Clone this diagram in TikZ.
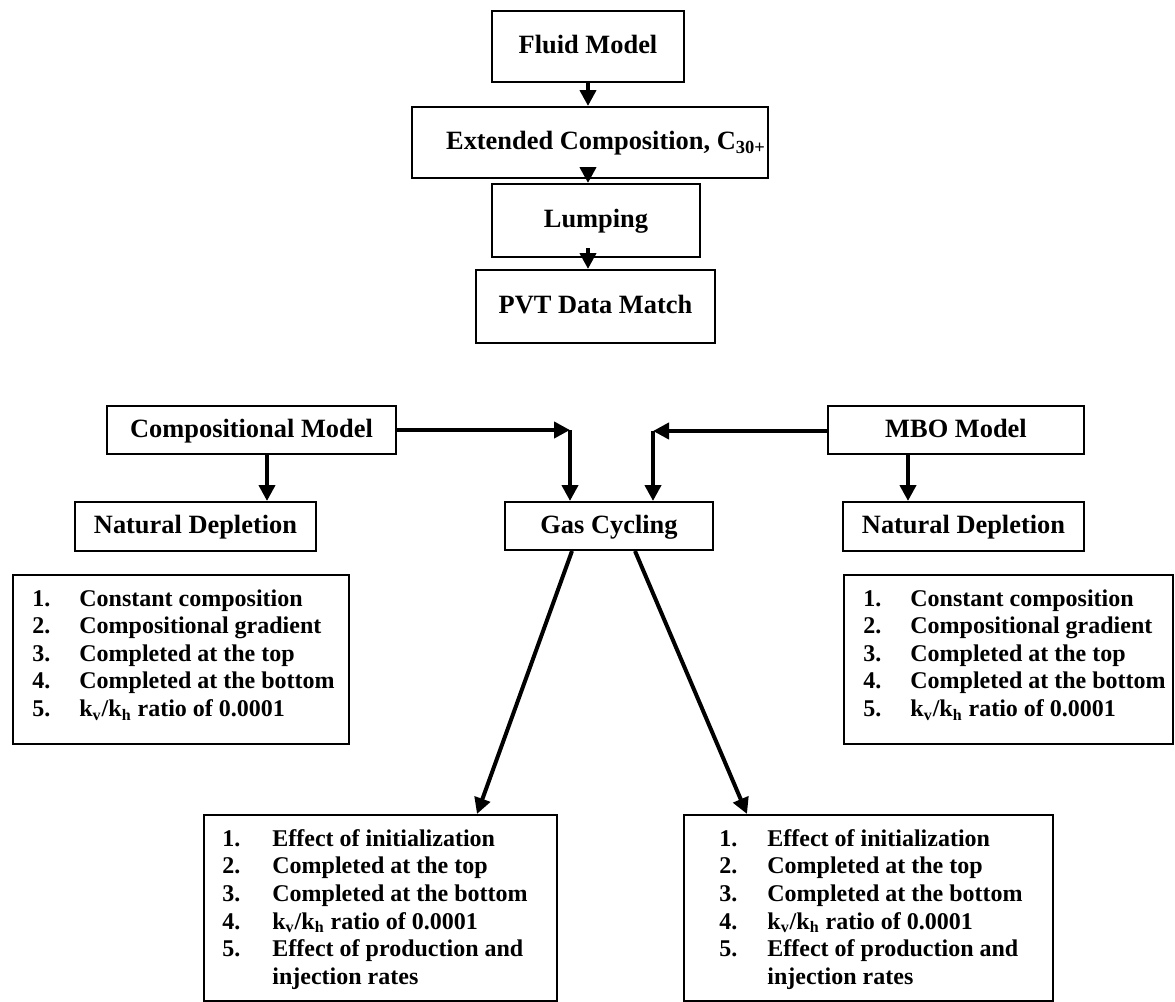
\documentclass[tikz,border=0pt]{standalone}
\usepackage{fontspec}
\setmainfont{Liberation Serif}
\usetikzlibrary{arrows.meta,calc}
\tikzset{
  box/.style={draw, line width=1pt, inner sep=0pt, font=\bfseries\fontsize{13.2}{15}\selectfont, text height=0.72em, text depth=0pt, anchor=center},
  lbox/.style={draw, line width=1pt, inner sep=0pt, anchor=north west},
  ltext/.style={align=left, inner sep=0pt, anchor=north west, font=\bfseries\fontsize{12}{13.8}\selectfont},
  arr/.style={line width=2pt, -{Triangle[length=8pt,width=8pt]}},
}
\newcommand{\itm}[2][23.5pt]{\makebox[#1][l]{#2}}
\newcommand{\kvkh}{k\textsubscript{v}/k\textsubscript{h}}
\begin{document}
\begin{tikzpicture}[x=0.5pt,y=-0.5pt]
\useasboundingbox (0,0) rectangle (1175,1002);
% top chain
\node[box, minimum width=96pt, minimum height=35.5pt] (fluid) at (588,46.5) {Fluid Model};
\node[box, minimum width=178pt, minimum height=35.5pt] (ext) at (590,142.5) {\hspace*{16pt}Extended Composition, C\textsubscript{30+}};
\node[box, minimum width=104pt, minimum height=36.5pt] (lump) at (596,220.5) {Lumping};
\node[box, minimum width=119.5pt, minimum height=36.5pt] (pvt) at (595.5,306.5) {PVT Data Match};
% middle row
\node[box, minimum width=144.5pt, minimum height=24pt] (comp) at (251.5,430) {Compositional Model};
\node[box, minimum width=128pt, minimum height=24pt] (mbo) at (956,430) {MBO Model};
\node[box, minimum width=120.5pt, minimum height=24.5pt] (ndl) at (195.5,526.5) {Natural Depletion};
\node[box, minimum width=120.5pt, minimum height=24.5pt] (ndr) at (963.5,526.5) {Natural Depletion};
\node[box, minimum width=104pt, minimum height=24pt] (gas) at (609,526) {Gas Cycling};
% list boxes
\node[lbox, minimum width=168pt, minimum height=84.5pt] (listL) at (12,574) {};
\node[ltext] (txtL) at (32,589) {\itm{1.}Constant composition\\\itm{2.}Compositional gradient\\\itm{3.}Completed at the top\\\itm{4.}Completed at the bottom\\\itm{5.}\kvkh{} ratio of 0.0001};
\node[lbox, minimum width=164.5pt, minimum height=84.5pt] (listR) at (843,574) {};
\node[ltext] (txtR) at (863,589) {\itm{1.}Constant composition\\\itm{2.}Compositional gradient\\\itm{3.}Completed at the top\\\itm{4.}Completed at the bottom\\\itm{5.}\kvkh{} ratio of 0.0001};
\node[lbox, minimum width=176.5pt, minimum height=93pt] (listBL) at (203,814) {};
\node[ltext] (txtBL) at (222,829) {\itm[25pt]{1.}Effect of initialization\\\itm[25pt]{2.}Completed at the top\\\itm[25pt]{3.}Completed at the bottom\\\itm[25pt]{4.}\kvkh{} ratio of 0.0001\\\itm[25pt]{5.}Effect of production and\\\itm[25pt]{}injection rates};
\node[lbox, minimum width=184.5pt, minimum height=93pt] (listBR) at (683,814) {};
\node[ltext] (txtBR) at (719,829) {\itm[24pt]{1.}Effect of initialization\\\itm[24pt]{2.}Completed at the top\\\itm[24pt]{3.}Completed at the bottom\\\itm[24pt]{4.}\kvkh{} ratio of 0.0001\\\itm[24pt]{5.}Effect of production and\\\itm[24pt]{}injection rates};
% arrows top chain
\draw[arr] (fluid.south) -- (fluid.south |- ext.north);
\draw[arr] ($(ext.south -| fluid.south)+(0,-12)$) -- (lump.north -| fluid.south);
\draw[arr] ($(lump.south -| fluid.south)+(0,-10)$) -- (pvt.north -| fluid.south);
% model to depletion
\draw[arr] ($(comp.south)+(15.5,0)$) coordinate (c1) -- (c1 |- ndl.north);
\draw[arr] ($(mbo.south)+(-48,0)$) coordinate (c2) -- (c2 |- ndr.north);
% to gas cycling
\coordinate (jl) at (570,430);
\coordinate (jr) at (653,431);
\draw[arr] (comp.east) -- (jl);
\draw[arr] (jl) -- (jl |- gas.north);
\draw[arr] (mbo.west |- jr) -- (jr);
\draw[arr] (jr) -- (jr |- gas.north);
% gas cycling to lists
\draw[arr] ($(gas.south)+(-37,0)$) -- ($(listBL.north west)+(274,0)$);
\draw[arr] ($(gas.south)+(26,0)$) -- ($(listBR.north west)+(64,0)$);
\end{tikzpicture}
\end{document}
